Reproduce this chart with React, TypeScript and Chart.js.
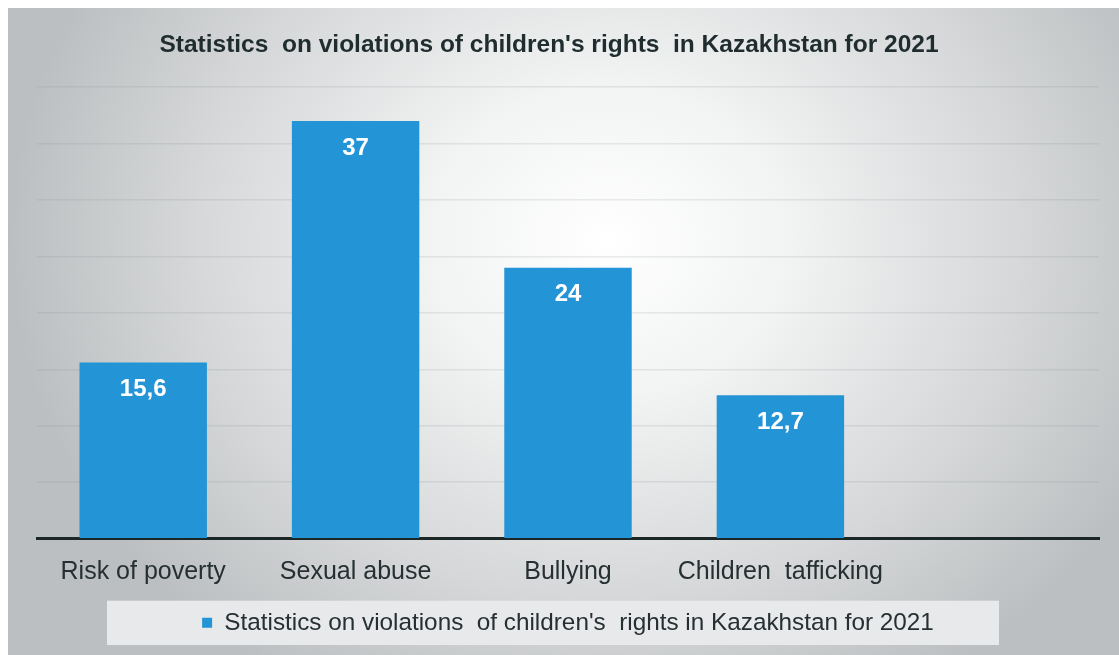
import React, { useEffect, useRef } from 'react';
import { Chart, registerables } from 'chart.js';

Chart.register(...registerables);

const TITLE = "Statistics  on violations of children's rights  in Kazakhstan for 2021";
const SERIES_NAME = "Statistics on violations  of children's  rights in Kazakhstan for 2021";
const categories = ['Risk of poverty', 'Sexual abuse', 'Bullying', 'Children  tafficking', ''];
const values: (number | null)[] = [15.6, 37, 24, 12.7, null];
const Y_MIN = 0;
const Y_MAX = 40;
const Y_STEP = 5;

const FONT = "'Liberation Sans', Arial, Helvetica, sans-serif";
const BAR_COLOR = '#2394d5';
const TEXT_COLOR = '#263032';

const titlePlugin = {
  id: 'customTitle',
  afterDraw(chart: any, _args: any, opts: any) {
    const ctx = chart.ctx;
    ctx.save();
    ctx.font = `bold ${opts.size}px ${FONT}`;
    ctx.fillStyle = opts.color;
    ctx.textAlign = 'center';
    ctx.textBaseline = 'middle';
    ctx.fillText(opts.text, opts.x, opts.y);
    ctx.restore();
  },
};

const legendBgPlugin = {
  id: 'legendBg',
  beforeDraw(chart: any, _args: any, opts: any) {
    const lg = chart.legend;
    if (!lg) return;
    const ctx = chart.ctx;
    ctx.save();
    ctx.fillStyle = opts.color;
    ctx.fillRect(opts.left, lg.top, opts.width, lg.height);
    ctx.restore();
  },
};

const valueLabelPlugin = {
  id: 'valueLabels',
  afterDatasetsDraw(chart: any) {
    const ctx = chart.ctx;
    const meta = chart.getDatasetMeta(0);
    const data = chart.data.datasets[0].data;
    ctx.save();
    ctx.font = `bold 24px ${FONT}`;
    ctx.fillStyle = '#ffffff';
    ctx.textAlign = 'center';
    ctx.textBaseline = 'middle';
    meta.data.forEach((bar: any, i: number) => {
      const v = data[i];
      if (v === null || v === undefined) return;
      ctx.fillText(String(v).replace('.', ','), bar.x, bar.y + 27);
    });
    ctx.restore();
  },
};

export default function App() {
  const canvasRef = useRef<HTMLCanvasElement | null>(null);

  useEffect(() => {
    if (!canvasRef.current) return;
    const chart = new Chart(canvasRef.current, {
      type: 'bar',
      data: {
        labels: categories,
        datasets: [
          {
            label: SERIES_NAME,
            data: values,
            backgroundColor: BAR_COLOR,
            borderWidth: 0,
            barPercentage: 0.6,
            categoryPercentage: 1,
          },
        ],
      },
      plugins: [titlePlugin, legendBgPlugin, valueLabelPlugin],
      options: {
        animation: false,
        responsive: true,
        maintainAspectRatio: false,
        layout: { padding: { left: 29, right: 20, top: 79, bottom: 10 } },
        scales: {
          x: {
            grid: { display: false, drawTicks: false },
            border: { display: true, color: '#1b2626', width: 3 },
            ticks: { font: { family: FONT, size: 25 }, color: TEXT_COLOR, padding: 18 },
            afterFit: (s: any) => {
              s.height = 62;
            },
          },
          y: {
            min: Y_MIN,
            max: Y_MAX,
            ticks: { display: false, stepSize: Y_STEP },
            grid: { color: 'rgba(140,145,148,0.18)', lineWidth: 1.5, drawTicks: false },
            border: { display: false },
          },
        },
        plugins: {
          tooltip: { enabled: false },
          title: { display: false },
          legend: {
            display: true,
            position: 'bottom',
            labels: {
              boxWidth: 10,
              boxHeight: 10,
              padding: 10,
              color: TEXT_COLOR,
              font: { family: FONT, size: 24.3 },
            },
          },
          customTitle: { text: TITLE, x: 541, y: 37, size: 24.5, color: '#1f2d2f' },
          legendBg: { left: 99, width: 892, color: '#e8e9ea' },
        } as any,
      },
    });
    return () => chart.destroy();
  }, []);

  return (
    <div
      style={{
        position: 'fixed',
        left: 8,
        top: 8,
        width: 1111,
        height: 647,
        background:
          'radial-gradient(ellipse 54% 80% at 54% 36%, #ffffff 0%, #f2f3f3 30%, #d6d8d9 68%, #bcbfc1 100%)',
      }}
    >
      <canvas ref={canvasRef} />
    </div>
  );
}
